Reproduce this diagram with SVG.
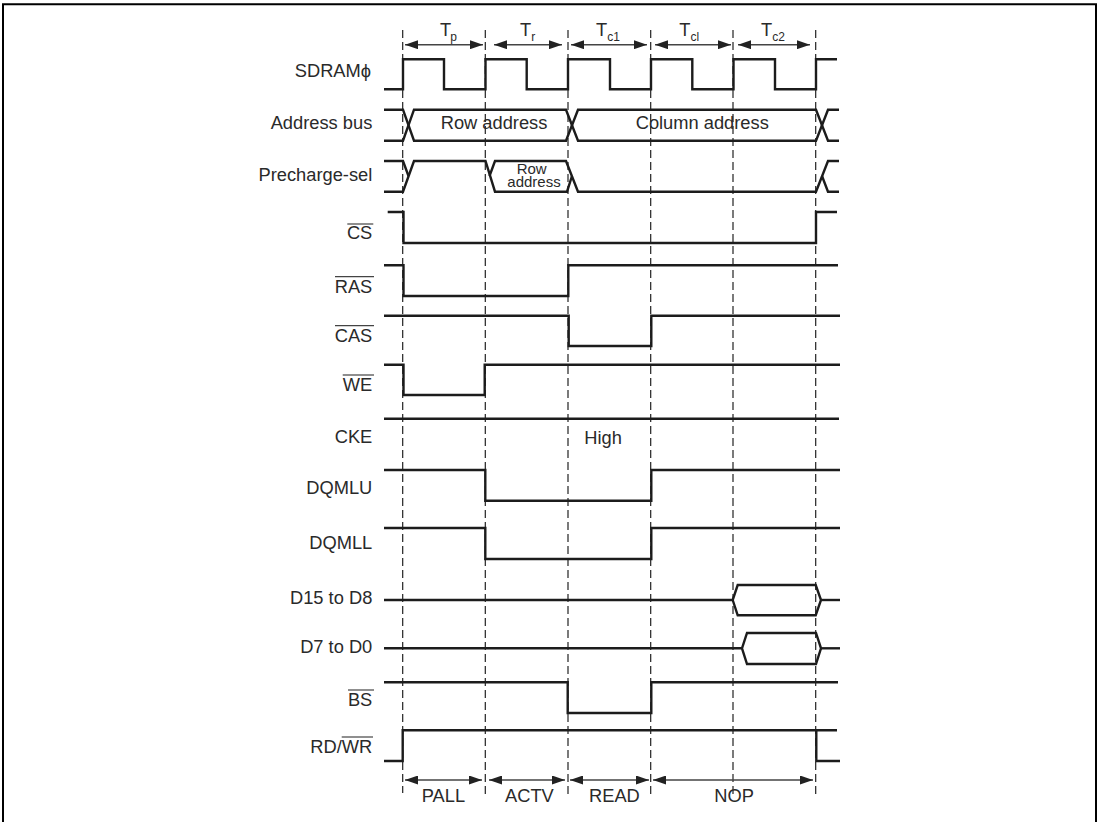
<svg xmlns="http://www.w3.org/2000/svg" width="1101" height="822" viewBox="0 0 1101 822">
<style>
text{font-family:"Liberation Sans",Arial,sans-serif;font-size:18.3px;fill:#2a2a2a}
.l{text-anchor:end}
.s{font-size:12px}
.m{font-size:15px;text-anchor:middle}
.w{fill:none;stroke:#1c1c1c;stroke-width:2.4}
.o{stroke:#444;stroke-width:1.2}
.d{stroke:#222;stroke-width:1.2;stroke-dasharray:8 4;fill:none}
.a{stroke:#444;stroke-width:1.5;fill:none;marker-start:url(#h);marker-end:url(#t)}
</style>
<defs>
<marker id="t" markerUnits="userSpaceOnUse" markerWidth="13" markerHeight="9" refX="13" refY="4.500" orient="auto"><path d="M0 0L13 4.500L0 9Z" fill="#222"/></marker>
<marker id="h" markerUnits="userSpaceOnUse" markerWidth="13" markerHeight="9" refX="0" refY="4.500" orient="auto"><path d="M13 0L0 4.500L13 9Z" fill="#222"/></marker>
</defs>
<rect width="1101" height="822" fill="#fff"/>
<path id="frame" d="M3 822V4.300H1096V822" fill="none" stroke="#000" stroke-width="2"/>
<g id="guides">
<path class="d" d="M402.700 30V793"/>
<path class="d" d="M485.300 30V795"/>
<path class="d" d="M568 30V797"/>
<path class="d" d="M650.700 30V797"/>
<path class="d" d="M733 30V797"/>
<path class="d" d="M815.700 30V797"/>
</g>
<g id="connectors">
<path class="a" d="M405 44.700H483"/>
<path class="a" d="M494 44.700H562"/>
<path class="a" d="M571 44.700H647"/>
<path class="a" d="M655 44.700H731"/>
<path class="a" d="M738 44.700H810"/>
<path class="a" d="M405 780H482"/>
<path class="a" d="M489 780H565"/>
<path class="a" d="M570 780H649"/>
<path class="a" d="M653 780H813"/>
</g>
<g id="timing-labels">
<text x="440" y="35.700">T<tspan class="s" dx="-1" dy="5">p</tspan></text>
<text x="520" y="35.700">T<tspan class="s" dy="5">r</tspan></text>
<text x="596" y="35.700">T<tspan class="s" dy="5">c1</tspan></text>
<text x="679.300" y="35.700">T<tspan class="s" dy="5">cl</tspan></text>
<text x="761" y="35.700">T<tspan class="s" dy="5">c2</tspan></text>
</g>
<g id="sig-sdram"><text class="l" x="371" y="77.300">SDRAMϕ</text>
<path class="w" d="M384 89.300H403V59.300H444V89.300H485.500V59.300H526.700V89.300H568V59.300H610V89.300H651V59.300H692.300V89.300H733.500V59.300H775V89.300H816V59.300H837"/></g>
<g id="sig-address"><text class="l" x="372.300" y="128.700">Address bus</text>
<path class="w" d="M384 109.700H403L414 140.700H566L578 109.700H816L828 140.700H839"/>
<path class="w" d="M384 140.700H403L414 109.700H566L578 140.700H816L828 109.700H839"/>
<text x="440.700" y="129.300">Row address</text>
<text x="635.700" y="129.300">Column address</text></g>
<g id="sig-precharge"><text class="l" x="372.300" y="181">Precharge-sel</text>
<path class="w" d="M384 161H403L408.500 176"/>
<path class="w" d="M384 191.700H403L414 161H485.500L495 191.700H567L572 176"/>
<path class="w" d="M489.500 176L495 161H566L578 191.700H816L828 161H839"/>
<path class="w" d="M822 176L828 191.700H839"/>
<text class="m" x="531.700" y="173.500">Row</text>
<text class="m" x="534" y="186.700">address</text></g>
<g id="sig-cs"><text class="l" x="372.300" y="239">CS</text><path class="o" d="M347.300 224H373.300"/>
<path class="w" d="M387.700 212H403.500V243H816V212H837"/></g>
<g id="sig-ras"><text class="l" x="372.300" y="292.700">RAS</text><path class="o" d="M335 276.700H374"/>
<path class="w" d="M384 265.300H403.500V296H568.300V265.300H838"/></g>
<g id="sig-cas"><text class="l" x="372.300" y="341.700">CAS</text><path class="o" d="M335 325.700H374"/>
<path class="w" d="M384 315.700H568.700V346H651.300V315.700H840"/></g>
<g id="sig-we"><text class="l" x="372.300" y="390.700">WE</text><path class="o" d="M342.700 375H374"/>
<path class="w" d="M384 364.700H403.500V395H484.700V364.700H840"/></g>
<g id="sig-cke"><text class="l" x="372.300" y="442.700">CKE</text>
<path class="w" d="M384 418.700H839"/>
<text x="584.300" y="444.300">High</text></g>
<g id="sig-dqmlu"><text class="l" x="372.300" y="494">DQMLU</text>
<path class="w" d="M384 470H485.300V500.700H651.300V470H840"/></g>
<g id="sig-dqmll"><text class="l" x="372.300" y="549">DQMLL</text>
<path class="w" d="M384 528H485.300V559H651.300V528H840"/></g>
<g id="sig-d15"><text class="l" x="372.300" y="604">D15 to D8</text>
<path class="w" d="M384 600H732.700L737.700 585H815.700L821 600L815.700 615.300H737.700L732.700 600"/>
<path class="w" d="M821 600H840"/></g>
<g id="sig-d7"><text class="l" x="372.300" y="653.300">D7 to D0</text>
<path class="w" d="M384 648.300H742L747 633H816L821 648.300L816 664H747L742 648.300"/>
<path class="w" d="M821 648.300H840"/></g>
<g id="sig-bs"><text class="l" x="372.300" y="705.700">BS</text><path class="o" d="M348 690H374"/>
<path class="w" d="M384 682.300H567.700V713H651.300V682.300H838"/></g>
<g id="sig-rdwr"><text class="l" x="372.300" y="753.300">RD/WR</text><path class="o" d="M341.700 737H373"/>
<path class="w" d="M384 761H402.700V730.300H837"/>
<path class="w" d="M816.300 730.300V761H840"/></g>
<g id="state-labels">
<text x="421.700" y="802.300">PALL</text>
<text x="505" y="802.300">ACTV</text>
<text x="589" y="802.300">READ</text>
<text x="714.300" y="802.300">NOP</text>
</g>
</svg>
